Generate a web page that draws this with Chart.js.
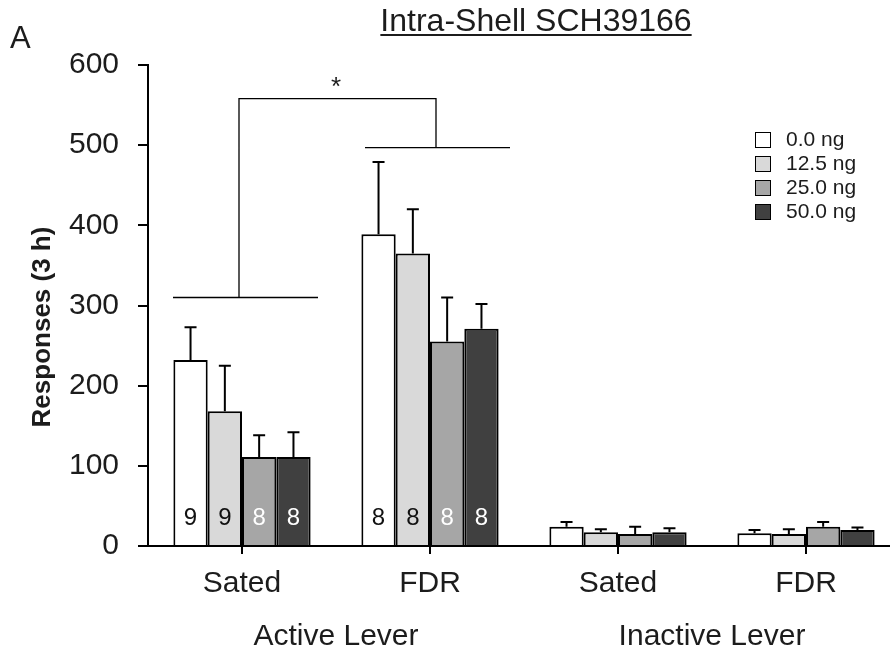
<!DOCTYPE html>
<html>
<head>
<meta charset="utf-8">
<script src="https://cdn.jsdelivr.net/npm/chart.js@4.4.1/dist/chart.umd.min.js"></script>
<style>
  html, body { margin: 0; padding: 0; background: #fff; overflow: hidden; }
  #wrap { width: 900px; height: 653px; }
</style>
</head>
<body>
<div id="wrap"><canvas id="chart" width="900" height="653"></canvas></div>
<script>
// categories on the x axis and the two lever groups under them
const categories = ["Sated", "FDR", "Sated", "FDR"];
const groups = ["Active Lever", "Inactive Lever"];
const doses = ["0.0 ng", "12.5 ng", "25.0 ng", "50.0 ng"];

// mean responses per dose
const dose0 = [232, 389, 24, 16];
const dose125 = [168, 365, 17, 15];
const dose25 = [111, 255, 15, 24];
const dose50 = [111, 271, 17, 20];

// upper error (SEM)
const err0 = [41, 90, 6, 4];
const err125 = [57, 55, 4, 6];
const err25 = [27, 55, 9, 6];
const err50 = [31, 31, 5, 3];

// n per bar (active lever only)
const n0 = [9, 8];
const n125 = [9, 8];
const n25 = [8, 8];
const n50 = [8, 8];

const yTicks = [0, 100, 200, 300, 400, 500, 600];

// significance bracket levels
const bracketLow = [310, 497];
const bracketTop = 558;

const fills = ["#ffffff", "#d9d9d9", "#a6a6a6", "#404040"];
const nColors = ["#111", "#111", "#fff", "#fff"];
const textColor = "#1c1c1c";
const font = "'Liberation Sans', Arial, sans-serif";

const values = [dose0, dose125, dose25, dose50];
const errors = [err0, err125, err25, err50];
const counts = [n0, n125, n25, n50];

const extras = {
  id: "extras",
  afterDatasetsDraw(chart) {
    const ctx = chart.ctx;
    const x = chart.scales.x;
    const y = chart.scales.y;

    // error bars
    ctx.save();
    ctx.strokeStyle = "#000";
    ctx.lineWidth = 2;
    chart.data.datasets.forEach((ds, i) => {
      const meta = chart.getDatasetMeta(i);
      meta.data.forEach((bar, j) => {
        const top = y.getPixelForValue(ds.data[j] + errors[i][j]);
        ctx.beginPath();
        ctx.moveTo(bar.x, bar.y);
        ctx.lineTo(bar.x, top);
        ctx.moveTo(bar.x - 6, top);
        ctx.lineTo(bar.x + 6, top);
        ctx.stroke();
      });
    });

    // n labels inside the active lever bars
    ctx.font = "24px " + font;
    ctx.textAlign = "center";
    ctx.textBaseline = "middle";
    chart.data.datasets.forEach((ds, i) => {
      const meta = chart.getDatasetMeta(i);
      counts[i].forEach((n, j) => {
        ctx.fillStyle = nColors[i];
        ctx.fillText(String(n), meta.data[j].x, y.bottom - 28);
      });
    });

    // brackets
    const c0 = x.getPixelForValue(0);
    const c1 = x.getPixelForValue(1);
    const yl0 = y.getPixelForValue(bracketLow[0]);
    const yl1 = y.getPixelForValue(bracketLow[1]);
    const yt = y.getPixelForValue(bracketTop);
    ctx.lineWidth = 1.3;
    ctx.beginPath();
    ctx.moveTo(c0 - 69, yl0); ctx.lineTo(c0 + 76, yl0);
    ctx.moveTo(c1 - 65, yl1); ctx.lineTo(c1 + 80, yl1);
    ctx.moveTo(c0 - 3, yl0); ctx.lineTo(c0 - 3, yt); ctx.lineTo(c1 + 6, yt); ctx.lineTo(c1 + 6, yl1);
    ctx.stroke();
    ctx.fillStyle = textColor;
    ctx.font = "26px " + font;
    ctx.fillText("*", (c0 + c1) / 2, yt - 11);
    ctx.restore();
  },
  afterDraw(chart) {
    const ctx = chart.ctx;
    const x = chart.scales.x;
    ctx.save();
    ctx.fillStyle = textColor;

    // group labels
    ctx.font = "30px " + font;
    ctx.textAlign = "center";
    ctx.textBaseline = "middle";
    ctx.fillText(groups[0], (x.getPixelForValue(0) + x.getPixelForValue(1)) / 2, 637);
    ctx.fillText(groups[1], (x.getPixelForValue(2) + x.getPixelForValue(3)) / 2, 637);

    // title, underlined
    ctx.font = "32px " + font;
    ctx.textBaseline = "alphabetic";
    const title = "Intra-Shell SCH39166";
    ctx.fillText(title, 536, 31);
    const w = ctx.measureText(title).width;
    ctx.fillRect(536 - w / 2, 34, w, 2);

    // panel letter
    ctx.textAlign = "left";
    ctx.font = "31px " + font;
    ctx.fillText("A", 10, 48);

    // y title
    ctx.save();
    ctx.translate(43, 327);
    ctx.rotate(-Math.PI / 2);
    ctx.textAlign = "center";
    ctx.textBaseline = "middle";
    ctx.font = "bold 26px " + font;
    ctx.fillText("Responses (3 h)", 0, 0);
    ctx.restore();

    // legend
    ctx.font = "21px " + font;
    ctx.textBaseline = "middle";
    chart.data.datasets.forEach((ds, i) => {
      const cy = 140 + i * 24;
      ctx.fillStyle = ds.backgroundColor;
      ctx.fillRect(755, cy - 8, 16, 16);
      ctx.strokeStyle = "#000";
      ctx.lineWidth = 1;
      ctx.strokeRect(755.5, cy - 7.5, 15, 15);
      ctx.fillStyle = textColor;
      ctx.fillText(ds.label, 786, cy);
    });
    ctx.restore();
  }
};

new Chart(document.getElementById("chart"), {
  type: "bar",
  data: {
    labels: categories,
    datasets: doses.map((d, i) => ({
      label: d,
      data: values[i],
      backgroundColor: fills[i],
      borderColor: "#000",
      borderWidth: 2,
      categoryPercentage: 0.73,
      barPercentage: 1.0
    }))
  },
  options: {
    responsive: false,
    animation: false,
    layout: { padding: { top: 65, right: 0, left: 0, bottom: 0 } },
    plugins: { legend: { display: false }, tooltip: { enabled: false } },
    scales: {
      x: {
        grid: { offset: false, drawOnChartArea: false, tickLength: 8, color: "#000", lineWidth: 2 },
        border: { color: "#000", width: 2 },
        ticks: { color: textColor, font: { size: 30, family: font }, padding: 12 },
        afterFit(s) { s.height = 107; }
      },
      y: {
        min: 0,
        max: 600,
        afterBuildTicks(s) { s.ticks = yTicks.map(v => ({ value: v })); },
        grid: { drawOnChartArea: false, tickLength: 10, color: "#000", lineWidth: 2 },
        border: { color: "#000", width: 2 },
        ticks: { color: textColor, font: { size: 30, family: font }, padding: 19 },
        afterFit(s) { s.width = 148; }
      }
    }
  },
  plugins: [extras]
});
</script>
</body>
</html>
